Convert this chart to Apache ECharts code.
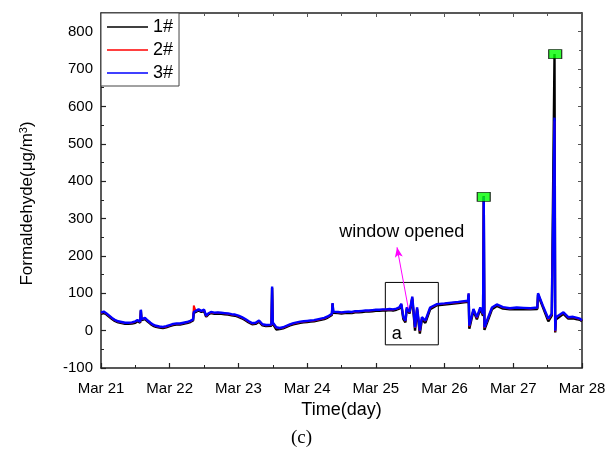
<!DOCTYPE html>
<html>
<head>
<meta charset="utf-8">
<script src="https://cdn.jsdelivr.net/npm/echarts@6/dist/echarts.min.js"></script>
<style>html,body{margin:0;padding:0;background:#fff}#c{width:605px;height:460px}</style>
</head>
<body>
<div id="c"></div>
<script>
const seriesNames = ['1#', '2#', '3#'];
const tickLabels = ['Mar 21', 'Mar 22', 'Mar 23', 'Mar 24', 'Mar 25', 'Mar 26', 'Mar 27', 'Mar 28'];
const times = [
21.00,21.04,21.08,21.12,21.16,21.20,21.25,21.30,21.35,21.40,21.45,21.50,21.53,21.57,21.58,21.59,21.64,21.68,21.72,21.76,21.80,21.85,21.90,21.95,
22.00,22.05,22.10,22.15,22.20,22.25,22.30,22.34,22.35,22.38,22.42,22.46,22.50,22.53,22.56,22.60,22.65,22.70,22.75,22.80,22.85,22.90,22.95,
23.00,23.05,23.10,23.15,23.20,23.25,23.30,23.35,23.40,23.48,23.49,23.50,23.55,23.60,23.65,23.70,23.75,23.80,23.85,23.90,23.95,
24.00,24.05,24.10,24.15,24.20,24.25,24.30,24.36,24.37,24.38,24.45,24.50,24.55,24.60,24.65,24.70,24.75,24.80,24.85,24.90,24.95,
25.00,25.05,25.10,25.15,25.20,25.25,25.30,25.34,25.37,25.40,25.43,25.45,25.49,25.53,25.57,25.60,25.64,25.67,25.72,25.79,25.89,
26.00,26.10,26.20,26.34,26.35,26.36,26.42,26.47,26.52,26.56,26.57,26.58,26.69,26.76,26.85,26.95,
27.05,27.15,27.25,27.35,27.36,27.43,27.51,27.56,27.60,27.61,27.62,27.73,27.80,27.87,27.93,27.97,28.00
];
const s1 = [
45,47,43,37,31,26,22,20,18,18,19,21,25,21,54,28,31,24,18,13,10,8,7,9,
12,15,16,16,18,20,23,27,47,50,54,50,52,37,43,47,45,46,45,44,43,41,40,
37,33,28,22,17,18,24,14,12,13,115,19,3,4,6,10,14,17,19,21,22,
23,24,25,27,29,31,35,42,72,48,47,46,47,48,47,49,49,50,51,51,52,
53,53,54,54,55,54,56,59,69,31,22,58,46,86,0,57,-8,30,21,57,68,
70,72,74,77,96,5,53,30,58,40,360,2,57,66,59,57,
58,57,57,58,96,63,25,40,740,-5,30,45,32,33,30,29,25
];
const s2 = [
47,50,45,39,33,28,24,22,20,20,21,24,27,23,55,30,33,26,20,15,12,10,9,11,
14,17,18,18,20,22,25,29,67,52,56,52,55,39,45,49,47,48,47,46,45,43,42,
39,35,30,24,19,20,26,16,14,15,116,21,8,6,8,12,16,19,21,23,24,
25,26,27,29,31,33,37,44,73,50,49,48,49,50,49,51,51,52,53,53,54,
55,55,56,56,57,56,58,61,71,35,26,61,49,90,7,61,-2,35,26,61,70,
72,74,76,79,99,11,57,34,61,44,358,7,61,69,62,59,
61,60,59,61,99,66,30,44,560,-2,35,48,35,36,33,31,27
];
const s3 = [
48,51,46,40,34,29,25,23,21,21,22,25,28,24,56,31,34,27,21,16,13,11,10,12,
15,18,19,19,21,23,26,30,50,53,57,53,56,40,46,50,48,49,48,47,46,44,43,
40,36,31,25,20,21,27,17,15,16,118,22,9,7,9,13,17,20,22,24,25,
26,27,28,30,32,34,38,45,74,51,50,49,50,51,50,52,52,53,54,54,55,
56,56,57,57,58,57,59,62,72,36,27,62,50,91,9,62,0,36,27,62,71,
73,75,77,80,100,13,58,36,62,45,358,9,62,70,63,60,
62,61,60,62,100,67,32,45,570,0,36,49,36,37,34,32,28
];
const peakX = [26.57, 27.61];
const peakY = [358, 740];
const arrowFrom = [25.473, 59];
const arrowTo = [25.308, 223];
const boxCorner1 = [25.138, 129];
const boxCorner2 = [25.909, -38];
const noteAt = [25.376, 263];
const noteText = 'window opened';
const boxText = 'a';

const colors = ['#000000', '#ff0000', '#0000ff'];
const widths = [2.4, 1.8, 2.4];
const vals = [s1, s2, s3];
const FONT = '"Liberation Sans", Arial, sans-serif';

const chart = echarts.init(document.getElementById('c'), null, {renderer: 'canvas'});
const axisLineStyle = {color: '#222', width: 1.5};
const series = seriesNames.map((n, i) => ({
  name: n, type: 'line', showSymbol: false, symbol: 'none',
  data: times.map((t, j) => [t, vals[i][j]]),
  lineStyle: {color: colors[i], width: widths[i]},
  itemStyle: {color: colors[i]},
  emphasis: {disabled: true}, z: 2 + i
}));
series.push({
  name: 'peak', type: 'scatter', symbol: 'rect', symbolSize: [13, 9],
  data: peakX.map((x, i) => [x, peakY[i]]),
  itemStyle: {color: '#00ff00', borderColor: '#000', borderWidth: 1},
  emphasis: {disabled: true}, z: 10,
  markLine: {
    silent: true, symbol: ['none', 'arrow'], symbolSize: [6, 10],
    lineStyle: {color: '#ff00ff', width: 1, type: 'solid'},
    label: {show: false},
    data: [[{coord: arrowFrom}, {coord: arrowTo}]]
  },
  markArea: {
    silent: true,
    itemStyle: {color: 'rgba(0,0,0,0)', borderColor: '#000', borderWidth: 1},
    label: {show: true, position: 'insideBottomLeft', formatter: boxText, color: '#000', fontSize: 18, fontFamily: FONT, distance: 2, padding: [0, 0, 0, 5]},
    data: [[{coord: boxCorner1}, {coord: boxCorner2}]]
  },
  markPoint: {
    silent: true, symbol: 'circle', symbolSize: 0,
    label: {show: true, position: 'inside', formatter: noteText, color: '#000', fontSize: 18, fontFamily: FONT},
    data: [{coord: noteAt}]
  }
});

chart.setOption({
  animation: false,
  grid: {left: 101, right: 23, top: 13, bottom: 92, containLabel: false, outerBoundsMode: 'none'},
  legend: {
    data: seriesNames, orient: 'vertical', left: 101, top: 13,
    backgroundColor: '#fff', borderColor: '#444', borderWidth: 1,
    padding: [5, 6, 4, 6], itemGap: 5, itemWidth: 41, itemHeight: 1.5, icon: 'rect',
    textStyle: {fontSize: 18, fontFamily: FONT, color: '#000', lineHeight: 18},
    z: 20
  },
  xAxis: [{
    type: 'value', min: 21, max: 28, interval: 1,
    name: 'Time(day)', nameLocation: 'middle', nameGap: 33,
    nameTextStyle: {fontSize: 18, fontFamily: FONT, color: '#000'},
    axisLine: {show: true, onZero: false, lineStyle: axisLineStyle},
    axisTick: {show: true, inside: true, length: 5, lineStyle: {color: '#222', width: 1.2}},
    minorTick: {show: true, splitNumber: 2, length: 3, lineStyle: {color: '#222', width: 1}},
    axisLabel: {fontSize: 15, fontFamily: FONT, color: '#000', margin: 13,
      formatter: v => tickLabels[Math.round(v - 21)]},
    splitLine: {show: false}
  }, {
    type: 'value', min: 21, max: 28, interval: 1, position: 'top',
    axisLine: {show: true, onZero: false, lineStyle: axisLineStyle},
    axisTick: {show: true, inside: true, length: 4, lineStyle: {color: '#555', width: 1}},
    minorTick: {show: true, splitNumber: 2, length: 3, lineStyle: {color: '#555', width: 1}},
    axisLabel: {show: false}, splitLine: {show: false}
  }],
  yAxis: [{
    type: 'value', min: -100, max: 850, interval: 100,
    name: 'Formaldehyde(μg/m{sup|3})', nameLocation: 'middle', nameGap: 64, nameRotate: 90,
    nameTextStyle: {fontSize: 17, fontFamily: FONT, color: '#000', padding: [0, 26, 0, 0],
      rich: {sup: {fontSize: 11, fontFamily: FONT, verticalAlign: 'top', color: '#000', padding: [0, 0, 8, 0]}}},
    axisLine: {show: true, onZero: false, lineStyle: axisLineStyle},
    axisTick: {show: true, inside: true, length: 5, lineStyle: {color: '#222', width: 1.2}},
    minorTick: {show: true, splitNumber: 2, length: 3, lineStyle: {color: '#222', width: 1}},
    axisLabel: {fontSize: 15, fontFamily: FONT, color: '#000', margin: 8, showMaxLabel: false},
    splitLine: {show: false}
  }, {
    type: 'value', min: -100, max: 850, interval: 100, position: 'right',
    axisLine: {show: true, onZero: false, lineStyle: axisLineStyle},
    axisTick: {show: true, inside: true, length: 4, lineStyle: {color: '#555', width: 1}},
    minorTick: {show: true, splitNumber: 2, length: 3, lineStyle: {color: '#555', width: 1}},
    axisLabel: {show: false}, splitLine: {show: false}
  }],
  graphic: [{
    type: 'text', left: 291, top: 429,
    style: {text: '(c)', font: '19px "Liberation Serif", "Times New Roman", serif', fill: '#000'}
  }],
  series: series
});
</script>
</body>
</html>
